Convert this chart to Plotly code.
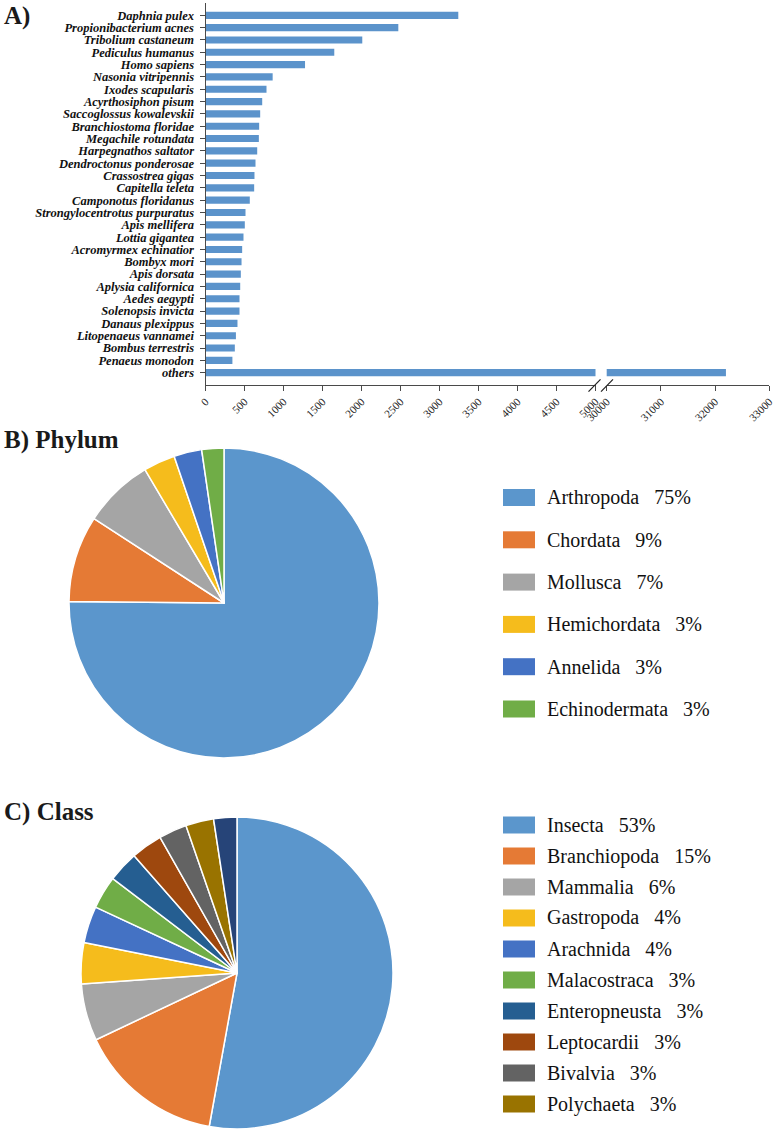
import plotly.graph_objects as go

W, H = 775, 1137


def fx(p):
    return p / W


def fy(p):
    return 1 - p / H


# ---------------- data ----------------
species = [
    "Daphnia pulex", "Propionibacterium acnes", "Tribolium castaneum",
    "Pediculus humanus", "Homo sapiens", "Nasonia vitripennis",
    "Ixodes scapularis", "Acyrthosiphon pisum", "Saccoglossus kowalevskii",
    "Branchiostoma floridae", "Megachile rotundata", "Harpegnathos saltator",
    "Dendroctonus ponderosae", "Crassostrea gigas", "Capitella teleta",
    "Camponotus floridanus", "Strongylocentrotus purpuratus", "Apis mellifera",
    "Lottia gigantea", "Acromyrmex echinatior", "Bombyx mori", "Apis dorsata",
    "Aplysia californica", "Aedes aegypti", "Solenopsis invicta",
    "Danaus plexippus", "Litopenaeus vannamei", "Bombus terrestris",
    "Penaeus monodon", "others",
]
counts = [
    3241, 2472, 2010, 1651, 1276, 861, 782, 727, 701, 688, 684, 663,
    641, 628, 624, 568, 513, 504, 487, 470, 462, 453, 445, 436, 436,
    410, 390, 376, 345, 32200,
]

left_ticks = [0, 500, 1000, 1500, 2000, 2500, 3000, 3500, 4000, 4500, 5000]
right_ticks = [30000, 31000, 32000, 33000]

phylum_names = ["Arthropoda", "Chordata", "Mollusca", "Hemichordata",
                "Annelida", "Echinodermata"]
phylum_values = [75.0, 9.0, 7.3, 3.3, 2.9, 2.3]
phylum_pct = ["75%", "9%", "7%", "3%", "3%", "3%"]
phylum_colors = ["#5B96CC", "#E57A35", "#A5A5A5", "#F5BC1C", "#4472C4",
                 "#70AD47"]

class_names = ["Insecta", "Branchiopoda", "Mammalia", "Gastropoda",
               "Arachnida", "Malacostraca", "Enteropneusta", "Leptocardii",
               "Bivalvia", "Polychaeta", "Other"]
class_values = [52.8, 15.1, 5.9, 4.25, 3.8, 3.4, 3.2, 3.25, 2.9, 2.9, 2.4]
class_pct = ["53%", "15%", "6%", "4%", "4%", "3%", "3%", "3%", "3%", "3%"]
class_colors = ["#5B96CC", "#E57A35", "#A5A5A5", "#F5BC1C", "#4472C4",
                "#70AD47", "#255E91", "#9E480E", "#636363", "#997300",
                "#264478"]

BAR_COLOR = "#5B93CB"
AXIS_COLOR = "#4a4a4a"
SERIF = "Liberation Serif"

fig = go.Figure()

# ---------------- A) broken bar chart ----------------
for xa in ["x", "x2"]:
    fig.add_trace(go.Bar(
        x=counts, y=species, orientation="h", xaxis=xa, yaxis="y",
        marker=dict(color=BAR_COLOR, line=dict(width=0)),
        width=0.58, showlegend=False, hoverinfo="x+y",
    ))

xfont = dict(family=SERIF, size=11, color="#222")
common_x = dict(
    anchor="y", tickmode="array", tickangle=-45, tickfont=xfont,
    ticks="outside", ticklen=5, tickcolor=AXIS_COLOR, showline=True,
    linecolor=AXIS_COLOR, linewidth=1, showgrid=False, zeroline=False,
    fixedrange=True, automargin=False,
)
fig.update_layout(
    xaxis=dict(
        domain=[fx(205.5), fx(595.5)], range=[0, 5000],
        tickvals=left_ticks, ticktext=[str(v) for v in left_ticks],
        **common_x,
    ),
    xaxis2=dict(
        domain=[fx(606.7), fx(769.3)], range=[30000, 33000],
        tickvals=right_ticks, ticktext=[str(v) for v in right_ticks],
        **common_x,
    ),
    yaxis=dict(
        domain=[fy(385), fy(3)], anchor="x",
        type="category", categoryorder="array", categoryarray=species,
        range=[30, -1], tickmode="array", tickvals=species, ticktext=species,
        tickfont=dict(family=SERIF, size=12.5, color="#111",
                      weight="bold", style="italic"),
        ticks="outside", ticklen=5, tickcolor=AXIS_COLOR,
        ticklabelstandoff=3,
        showline=True, linecolor=AXIS_COLOR, linewidth=1,
        showgrid=False, zeroline=False, fixedrange=True, automargin=False,
    ),
)

# break marks "//"
for cx in [594.5, 607.0]:
    fig.add_shape(type="line", xref="paper", yref="paper",
                  x0=fx(cx - 6), y0=fy(391.7), x1=fx(cx + 6), y1=fy(379.3),
                  line=dict(color="#222", width=1.2))

# ---------------- B) Phylum pie ----------------
fig.add_trace(go.Pie(
    labels=phylum_names, values=phylum_values, sort=False,
    direction="clockwise", rotation=0, textinfo="none",
    marker=dict(colors=phylum_colors, line=dict(color="white", width=1.5)),
    domain=dict(x=[fx(69), fx(379)], y=[fy(758), fy(448)]),
    showlegend=False, hoverinfo="label+percent", automargin=False,
))

# ---------------- C) Class pie ----------------
fig.add_trace(go.Pie(
    labels=class_names, values=class_values, sort=False,
    direction="clockwise", rotation=0, textinfo="none",
    marker=dict(colors=class_colors, line=dict(color="white", width=1.5)),
    domain=dict(x=[fx(81), fx(393)], y=[fy(1129), fy(817)]),
    showlegend=False, hoverinfo="label+percent", automargin=False,
))

annotations = []
shapes = []

# panel titles
for txt, yy in [("A)", 15.5), ("B) Phylum", 439.5), ("C) Class", 811.5)]:
    annotations.append(dict(
        text=txt, x=fx(2), y=fy(yy), xref="paper", yref="paper",
        xanchor="left", yanchor="middle", showarrow=False,
        font=dict(family=SERIF, size=25, color="#1a1a1a", weight="bold"),
    ))

SP = "\u00a0" * 3


def add_legend(names, pcts, colors, y0, step, size):
    for i, (n, p) in enumerate(zip(names, pcts)):
        yc = y0 + step * i
        shapes.append(dict(
            type="rect", xref="paper", yref="paper",
            x0=fx(503), x1=fx(535), y0=fy(yc + 8.5), y1=fy(yc - 8.5),
            fillcolor=colors[i], line=dict(width=0),
        ))
        annotations.append(dict(
            text=n + SP + p, x=fx(545), y=fy(yc), xref="paper",
            yref="paper", xanchor="left", yanchor="middle",
            showarrow=False,
            font=dict(family=SERIF, size=size, color="#111"),
        ))


add_legend(phylum_names, phylum_pct, phylum_colors, 497.5, 42.3, 20)
add_legend(class_names[:10], class_pct, class_colors, 825, 31.0, 20)

fig.update_layout(
    width=W, height=H,
    margin=dict(l=0, r=0, t=0, b=0, pad=0, autoexpand=False),
    paper_bgcolor="white", plot_bgcolor="white",
    bargap=0.42,
    annotations=fig.layout.annotations + tuple(annotations),
    shapes=fig.layout.shapes + tuple(shapes),
    hovermode="closest",
)

fig.write_html(
    "out.html",
    config={"displayModeBar": False},
    post_script="document.body.style.margin='0px';"
                "document.body.style.overflow='hidden';",
)
